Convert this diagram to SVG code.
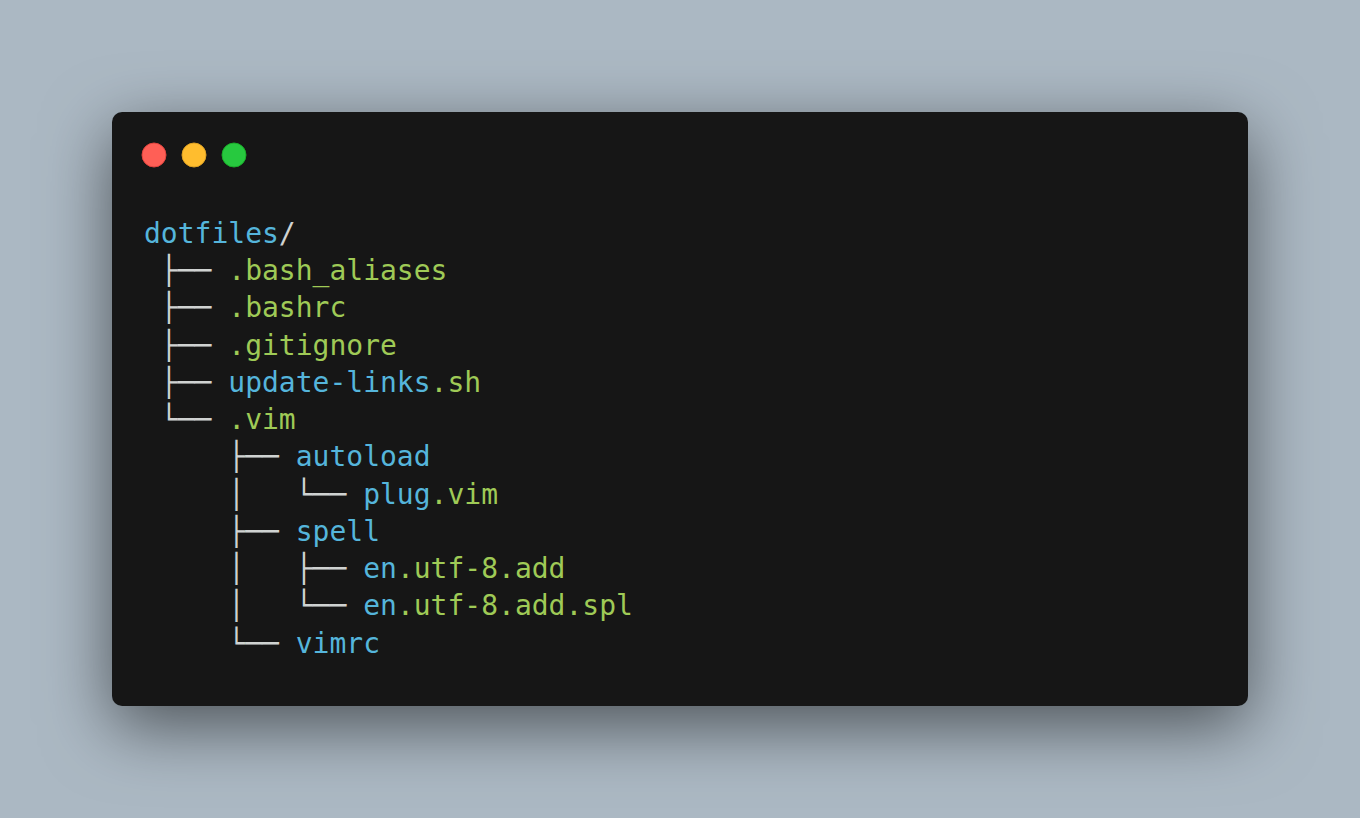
<svg xmlns="http://www.w3.org/2000/svg" width="1360" height="818" viewBox="0 0 1360 818">
<defs>
<filter id="shadow" x="-20%" y="-30%" width="140%" height="170%">
<feDropShadow dx="0" dy="20" stdDeviation="34" flood-color="#000" flood-opacity="0.55"/>
</filter>
</defs>
<style>
text{font-family:"DejaVu Sans Mono","Liberation Mono",monospace;font-size:28px;fill:#cfd2d1;white-space:pre}
.b{fill:#55b5db}
.g{fill:#9fca56}
.t{fill:#cfd2d1}
</style>
<rect x="0" y="0" width="1360" height="818" fill="#abb8c3"/>
<g id="window">
<rect x="112" y="112" width="1136" height="594" rx="10" ry="10" fill="#151718" filter="url(#shadow)"/>
</g>
<g id="controls">
<circle cx="154" cy="155" r="12" fill="#ff5f56" stroke="#e0443e" stroke-width="1"/>
<circle cx="194" cy="155" r="12" fill="#ffbd2e" stroke="#dea123" stroke-width="1"/>
<circle cx="234" cy="155" r="12" fill="#27c93f" stroke="#1aab29" stroke-width="1"/>
</g>
<g id="tree">
<g id="n-dotfiles"><text x="144" y="243" xml:space="preserve"><tspan class="b">dotfiles</tspan><tspan class="t">/</tspan></text></g>
<g id="n-bash_aliases"><text x="144" y="280.24" xml:space="preserve"><tspan class="t"> ├── </tspan><tspan class="g">.bash_aliases</tspan></text></g>
<g id="n-bashrc"><text x="144" y="317.48" xml:space="preserve"><tspan class="t"> ├── </tspan><tspan class="g">.bashrc</tspan></text></g>
<g id="n-gitignore"><text x="144" y="354.72" xml:space="preserve"><tspan class="t"> ├── </tspan><tspan class="g">.gitignore</tspan></text></g>
<g id="n-update-links"><text x="144" y="391.96" xml:space="preserve"><tspan class="t"> ├── </tspan><tspan class="b">update-links</tspan><tspan class="g">.sh</tspan></text></g>
<g id="n-vim"><text x="144" y="429.2" xml:space="preserve"><tspan class="t"> └── </tspan><tspan class="g">.vim</tspan></text></g>
<g id="n-autoload"><text x="144" y="466.44" xml:space="preserve"><tspan class="t">     ├── </tspan><tspan class="b">autoload</tspan></text></g>
<g id="n-plug"><text x="144" y="503.68" xml:space="preserve"><tspan class="t">     │   └── </tspan><tspan class="b">plug</tspan><tspan class="g">.vim</tspan></text></g>
<g id="n-spell"><text x="144" y="540.92" xml:space="preserve"><tspan class="t">     ├── </tspan><tspan class="b">spell</tspan></text></g>
<g id="n-en-add"><text x="144" y="578.16" xml:space="preserve"><tspan class="t">     │   ├── </tspan><tspan class="b">en</tspan><tspan class="g">.utf-8.add</tspan></text></g>
<g id="n-en-spl"><text x="144" y="615.4" xml:space="preserve"><tspan class="t">     │   └── </tspan><tspan class="b">en</tspan><tspan class="g">.utf-8.add.spl</tspan></text></g>
<g id="n-vimrc"><text x="144" y="652.64" xml:space="preserve"><tspan class="t">     └── </tspan><tspan class="b">vimrc</tspan></text></g>
</g>
<g id="connectors"></g>
</svg>
